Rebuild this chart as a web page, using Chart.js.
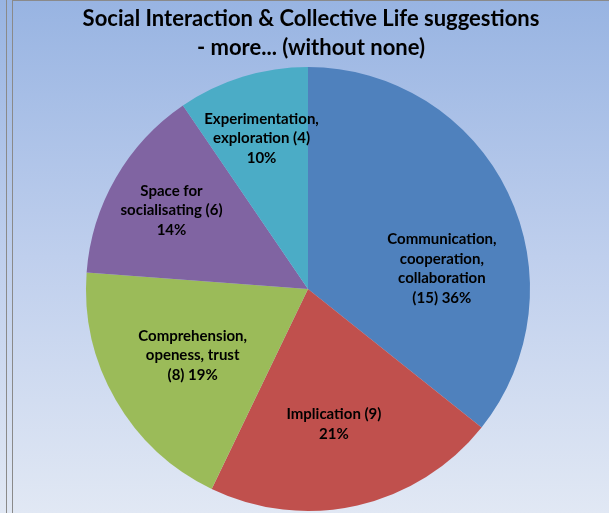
<!DOCTYPE html>
<html>
<head>
<meta charset="utf-8">
<script src="https://cdn.jsdelivr.net/npm/chart.js"></script>
<style>
  body { margin: 0; width: 609px; height: 513px; position: relative; overflow: hidden;
         background: linear-gradient(#98b4e2, #bfcfed 50%, #e1e8f4); }
  #sep { position: absolute; left: 6px; top: 0; width: 1px; height: 513px; background: #8a8a8a; }
  #frame { position: absolute; left: 12px; top: 0; width: 597px; height: 513px; box-sizing: border-box;
           border-left: 1px solid #8a8a8a; border-top: 1px solid #8a8a8a;
           background: linear-gradient(#98b4e2, #bfcfed 50%, #e1e8f4); }
  #box { position: relative; width: 596px; height: 512px; }
</style>
</head>
<body>
<div id="sep"></div>
<div id="frame"><div id="box"><canvas id="pie"></canvas></div></div>
<script>
// data
const categories = ['Communication, cooperation, collaboration', 'Implication', 'Comprehension, openess, trust', 'Space for socialisating', 'Experimentation, exploration'];
const counts = [15, 9, 8, 6, 4];
const colors = ['#4f81bd', '#c0504d', '#9bbb59', '#8064a2', '#4bacc6'];
const titleLines = ['Social Interaction & Collective Life suggestions', '- more... (without none)'];

// where Excel put each label: share of the radius and a small turn off the mid angle (degrees)
const labelRadius = [0.61, 0.62, 0.60, 0.71, 0.71];
const labelTurn = [17, 2, 0, 0, 0];
const labelFont = 'bold 15px Lato';
const labelWrap = 108;

const total = counts.reduce((a, b) => a + b, 0);

const wrapText = (ctx, text, maxW) => {
    const words = text.split(' ');
    const lines = [];
    let cur = '';
    words.forEach(w => {
        const test = cur ? cur + ' ' + w : w;
        if (cur && ctx.measureText(test).width > maxW) {
            lines.push(cur);
            cur = w;
        } else {
            cur = test;
        }
    });
    if (cur) lines.push(cur);
    return lines;
};

const titlePlugin = {
    id: 'excelTitle',
    afterDraw(chart) {
        const ctx = chart.ctx;
        ctx.save();
        ctx.font = 'bold 22px Lato';
        ctx.fillStyle = '#000';
        ctx.textAlign = 'center';
        ctx.textBaseline = 'alphabetic';
        titleLines.forEach((t, i) => ctx.fillText(t, chart.width / 2, 25 + i * 29));
        ctx.restore();
    }
};

const labelPlugin = {
    id: 'sliceLabels',
    afterDatasetsDraw(chart) {
        const ctx = chart.ctx;
        const arcs = chart.getDatasetMeta(0).data;
        ctx.save();
        ctx.font = labelFont;
        ctx.fillStyle = '#000';
        ctx.textAlign = 'center';
        ctx.textBaseline = 'middle';
        arcs.forEach((arc, i) => {
            const p = arc.getProps(['x', 'y', 'startAngle', 'endAngle', 'outerRadius'], true);
            const mid = (p.startAngle + p.endAngle) / 2 + labelTurn[i] * Math.PI / 180;
            const r = p.outerRadius * labelRadius[i];
            const cx = p.x + Math.cos(mid) * r;
            const cy = p.y + Math.sin(mid) * r;
            const pct = Math.round(counts[i] / total * 100);
            const lines = wrapText(ctx, `${categories[i]} (${counts[i]}) ${pct}%`, labelWrap);
            const lh = 19.5;
            lines.forEach((l, k) => ctx.fillText(l, cx, cy + (k - (lines.length - 1) / 2) * lh));
        });
        ctx.restore();
    }
};

new Chart(document.getElementById('pie'), {
    type: 'pie',
    data: {
        labels: categories,
        datasets: [{
            data: counts,
            backgroundColor: colors,
            borderWidth: 0
        }]
    },
    options: {
        responsive: true,
        maintainAspectRatio: false,
        animation: false,
        layout: { padding: { left: 73, right: 79, top: 66, bottom: 2 } },
        plugins: {
            legend: { display: false },
            title: { display: false },
            tooltip: { enabled: false }
        }
    },
    plugins: [titlePlugin, labelPlugin]
});
</script>
</body>
</html>
